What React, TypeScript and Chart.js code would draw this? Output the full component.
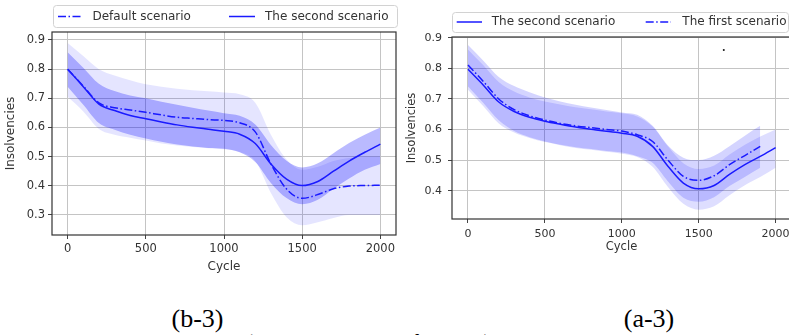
import React, { useEffect, useRef } from "react";
import { Chart, registerables } from "chart.js";

Chart.register(...registerables);

// ---------- shared axis values ----------
const CYCLES = [0, 100, 200, 300, 400, 500, 600, 700, 800, 900, 1000, 1100, 1200, 1300, 1400, 1500, 1600, 1700, 1800, 1900, 2000];
const CYCLES_FIRST = [0, 100, 200, 300, 400, 500, 600, 700, 800, 900, 1000, 1100, 1200, 1300, 1400, 1500, 1600, 1700, 1800, 1900];
const X_TICKS = [0, 500, 1000, 1500, 2000];
const Y_TICKS_B = [0.3, 0.4, 0.5, 0.6, 0.7, 0.8, 0.9];
const Y_TICKS_A = [0.4, 0.5, 0.6, 0.7, 0.8, 0.9];

// ---------- (b-3) ----------
const B_DEFAULT_MEAN = [0.800, 0.742, 0.684, 0.668, 0.660, 0.652, 0.643, 0.635, 0.631, 0.627, 0.624, 0.616, 0.585, 0.475, 0.389, 0.357, 0.370, 0.390, 0.399, 0.401, 0.402];
const B_DEFAULT_UPPER = [0.890, 0.845, 0.800, 0.778, 0.762, 0.748, 0.740, 0.733, 0.728, 0.724, 0.720, 0.714, 0.685, 0.575, 0.490, 0.455, 0.465, 0.485, 0.495, 0.500, 0.500];
const B_DEFAULT_LOWER = [0.705, 0.655, 0.595, 0.575, 0.565, 0.555, 0.545, 0.538, 0.533, 0.529, 0.525, 0.516, 0.485, 0.375, 0.292, 0.265, 0.275, 0.290, 0.300, 0.300, 0.300];
const B_SECOND_MEAN = [0.800, 0.740, 0.680, 0.658, 0.641, 0.630, 0.619, 0.609, 0.601, 0.594, 0.587, 0.577, 0.545, 0.475, 0.423, 0.401, 0.415, 0.450, 0.485, 0.515, 0.543];
const B_SECOND_UPPER = [0.858, 0.805, 0.750, 0.725, 0.710, 0.700, 0.688, 0.678, 0.668, 0.658, 0.649, 0.640, 0.610, 0.540, 0.486, 0.463, 0.477, 0.512, 0.547, 0.575, 0.600];
const B_SECOND_LOWER = [0.740, 0.678, 0.615, 0.592, 0.575, 0.562, 0.551, 0.542, 0.535, 0.530, 0.527, 0.515, 0.482, 0.410, 0.358, 0.337, 0.352, 0.390, 0.425, 0.455, 0.475];

// ---------- (a-3) ----------
const A_SECOND_MEAN = [0.797, 0.745, 0.690, 0.659, 0.640, 0.627, 0.617, 0.608, 0.601, 0.594, 0.588, 0.578, 0.545, 0.480, 0.425, 0.406, 0.417, 0.453, 0.485, 0.512, 0.541];
const A_SECOND_UPPER = [0.862, 0.810, 0.755, 0.724, 0.705, 0.692, 0.682, 0.673, 0.666, 0.659, 0.653, 0.643, 0.610, 0.545, 0.490, 0.471, 0.482, 0.518, 0.550, 0.577, 0.600];
const A_SECOND_LOWER = [0.730, 0.676, 0.620, 0.590, 0.572, 0.559, 0.549, 0.540, 0.534, 0.527, 0.521, 0.510, 0.478, 0.412, 0.357, 0.338, 0.349, 0.385, 0.418, 0.445, 0.475];
const A_FIRST_MEAN = [0.811, 0.757, 0.700, 0.665, 0.645, 0.631, 0.620, 0.612, 0.606, 0.600, 0.595, 0.583, 0.561, 0.500, 0.447, 0.434, 0.449, 0.485, 0.515, 0.545];
const A_FIRST_UPPER = [0.876, 0.825, 0.772, 0.742, 0.722, 0.705, 0.692, 0.681, 0.672, 0.664, 0.656, 0.648, 0.612, 0.548, 0.508, 0.500, 0.514, 0.545, 0.580, 0.612];
const A_FIRST_LOWER = [0.741, 0.687, 0.630, 0.595, 0.575, 0.561, 0.550, 0.542, 0.536, 0.530, 0.525, 0.513, 0.491, 0.430, 0.377, 0.364, 0.379, 0.415, 0.445, 0.475];
const A_STRAY_X = [1663];
const A_STRAY_Y = [0.86];

const LINE_BLUE = "#1a1aff";
const DASH_DOT = [8, 2.5, 1.5, 2.5];
const FONT = "DejaVu Sans";
const TEXT = "#333333";

const pts = (xs: number[], ys: number[]) => xs.map((x, i) => ({ x, y: ys[i] }));

function line(xs: number[], ys: number[], dash: number[]) {
  return {
    data: pts(xs, ys),
    borderColor: LINE_BLUE,
    borderWidth: 1.5,
    borderDash: dash,
    pointRadius: 0,
    fill: false,
    cubicInterpolationMode: "monotone",
  };
}

function band(xs: number[], up: number[], lo: number[], color: string) {
  return [
    {
      data: pts(xs, up),
      borderWidth: 0,
      borderColor: "rgba(0,0,0,0)",
      pointRadius: 0,
      fill: "+1",
      backgroundColor: color,
      cubicInterpolationMode: "monotone",
    },
    {
      data: pts(xs, lo),
      borderWidth: 0,
      borderColor: "rgba(0,0,0,0)",
      pointRadius: 0,
      fill: false,
      cubicInterpolationMode: "monotone",
    },
  ];
}

type LegendItem = { text: string; dash: number[]; x0: number; x1: number; tx: number };
type Spec = {
  width: number;
  height: number;
  padding: { left: number; top: number; right: number; bottom: number };
  yWidth: number;
  xHeight: number;
  xMin: number;
  xMax: number;
  yMin: number;
  yMax: number;
  yTicks: number[];
  tickFont: number;
  titleFont: number;
  xTickPad: number;
  yTickPad: number;
  yTitlePad: number;
  legendBox: [number, number, number, number];
  legendY: number;
  legendItems: LegendItem[];
  datasets: any[];
};

function makeChart(canvas: HTMLCanvasElement, s: Spec) {
  const framePlugin = {
    id: "frameLegend" + Math.random().toString(36).slice(2),
    afterDraw(chart: any) {
      const { ctx, chartArea } = chart;
      ctx.save();
      ctx.strokeStyle = "#333";
      ctx.lineWidth = 1.2;
      ctx.strokeRect(chartArea.left, chartArea.top, chartArea.right - chartArea.left, chartArea.bottom - chartArea.top);
      const [bx, by, bw, bh] = s.legendBox;
      ctx.beginPath();
      const r = 3;
      ctx.moveTo(bx + r, by);
      ctx.lineTo(bx + bw - r, by);
      ctx.arcTo(bx + bw, by, bx + bw, by + r, r);
      ctx.lineTo(bx + bw, by + bh - r);
      ctx.arcTo(bx + bw, by + bh, bx + bw - r, by + bh, r);
      ctx.lineTo(bx + r, by + bh);
      ctx.arcTo(bx, by + bh, bx, by + bh - r, r);
      ctx.lineTo(bx, by + r);
      ctx.arcTo(bx, by, bx + r, by, r);
      ctx.closePath();
      ctx.fillStyle = "rgba(255,255,255,0.85)";
      ctx.fill();
      ctx.strokeStyle = "#d2d2d2";
      ctx.lineWidth = 1;
      ctx.stroke();
      for (const it of s.legendItems) {
        ctx.beginPath();
        ctx.setLineDash(it.dash);
        ctx.strokeStyle = LINE_BLUE;
        ctx.lineWidth = 1.5;
        ctx.moveTo(it.x0, s.legendY);
        ctx.lineTo(it.x1, s.legendY);
        ctx.stroke();
        ctx.setLineDash([]);
        ctx.fillStyle = TEXT;
        ctx.font = `12px "${FONT}"`;
        ctx.textBaseline = "middle";
        ctx.textAlign = "left";
        ctx.fillText(it.text, it.tx, s.legendY);
      }
      ctx.restore();
    },
  };

  return new Chart(canvas, {
    type: "line",
    data: { datasets: s.datasets },
    plugins: [framePlugin],
    options: {
      animation: false,
      responsive: false,
      devicePixelRatio: 1,
      events: [],
      layout: { padding: s.padding },
      plugins: { legend: { display: false }, tooltip: { enabled: false } },
      scales: {
        x: {
          type: "linear",
          min: s.xMin,
          max: s.xMax,
          afterBuildTicks: (sc: any) => {
            sc.ticks = X_TICKS.map((v) => ({ value: v }));
          },
          afterFit: (sc: any) => {
            sc.height = s.xHeight;
          },
          ticks: {
            autoSkip: false,
            maxRotation: 0,
            padding: s.xTickPad,
            color: TEXT,
            font: { family: FONT, size: s.tickFont },
            callback: (v: any) => String(v),
          },
          grid: { color: "#c4c4c4", lineWidth: 1, tickLength: 4, tickColor: "#444", drawTicks: true },
          border: { display: false },
          title: {
            display: true,
            text: "Cycle",
            color: TEXT,
            font: { family: FONT, size: s.titleFont },
            padding: { top: 0, bottom: 1 },
          },
        },
        y: {
          type: "linear",
          position: "left",
          min: s.yMin,
          max: s.yMax,
          afterBuildTicks: (sc: any) => {
            sc.ticks = s.yTicks.map((v) => ({ value: v }));
          },
          afterFit: (sc: any) => {
            sc.width = s.yWidth;
          },
          ticks: {
            autoSkip: false,
            padding: s.yTickPad,
            color: TEXT,
            font: { family: FONT, size: s.tickFont },
            callback: (v: any) => Number(v).toFixed(1),
          },
          grid: { color: "#c4c4c4", lineWidth: 1, tickLength: 4, tickColor: "#444", drawTicks: true },
          border: { display: false },
          title: {
            display: true,
            text: "Insolvencies",
            color: TEXT,
            font: { family: FONT, size: s.titleFont },
            padding: { top: s.yTitlePad, bottom: 0 },
          },
        },
      },
    } as any,
  });
}

const specB: Spec = {
  width: 400,
  height: 290,
  padding: { left: 0, top: 32, right: 4, bottom: 15 },
  yWidth: 52,
  xHeight: 40,
  xMin: -100,
  xMax: 2100,
  yMin: 0.2314,
  yMax: 0.9274,
  yTicks: Y_TICKS_B,
  tickFont: 11.5,
  titleFont: 12,
  xTickPad: 3.5,
  yTickPad: 3,
  yTitlePad: 4,
  legendBox: [53.5, 5.5, 344, 22],
  legendY: 16.5,
  legendItems: [
    { text: "Default scenario", dash: DASH_DOT, x0: 58, x1: 82, tx: 92.5 },
    { text: "The second scenario", dash: [], x0: 229, x1: 255, tx: 265 },
  ],
  datasets: [
    line(CYCLES, B_DEFAULT_MEAN, DASH_DOT),
    line(CYCLES, B_SECOND_MEAN, []),
    ...band(CYCLES, B_SECOND_UPPER, B_SECOND_LOWER, "rgba(0,0,255,0.27)"),
    ...band(CYCLES, B_DEFAULT_UPPER, B_DEFAULT_LOWER, "rgba(0,0,255,0.10)"),
  ],
};

const specA: Spec = {
  width: 405,
  height: 290,
  padding: { left: 0, top: 37, right: 9, bottom: 35 },
  yWidth: 57,
  xHeight: 36,
  xMin: -104,
  xMax: 2100,
  yMin: 0.3075,
  yMax: 0.9025,
  yTicks: Y_TICKS_A,
  tickFont: 11,
  titleFont: 11.5,
  xTickPad: 4.5,
  yTickPad: 6,
  yTitlePad: 10,
  legendBox: [57.5, 12.5, 336, 20],
  legendY: 22,
  legendItems: [
    { text: "The second scenario", dash: [], x0: 61.7, x1: 87, tx: 96.7 },
    { text: "The first scenario", dash: DASH_DOT, x0: 250.7, x1: 276, tx: 287.3 },
  ],
  datasets: [
    line(CYCLES, A_SECOND_MEAN, []),
    line(CYCLES_FIRST, A_FIRST_MEAN, DASH_DOT),
    {
      data: pts(A_STRAY_X, A_STRAY_Y),
      showLine: false,
      pointRadius: 1,
      pointBorderWidth: 0,
      pointBackgroundColor: "#111",
      fill: false,
    },
    ...band(CYCLES_FIRST, A_FIRST_UPPER, A_FIRST_LOWER, "rgba(0,0,255,0.17)"),
    ...band(CYCLES, A_SECOND_UPPER, A_SECOND_LOWER, "rgba(0,0,255,0.13)"),
  ],
};

export default function App() {
  const refB = useRef<HTMLCanvasElement>(null);
  const refA = useRef<HTMLCanvasElement>(null);

  useEffect(() => {
    const cb = makeChart(refB.current as HTMLCanvasElement, specB);
    const ca = makeChart(refA.current as HTMLCanvasElement, specA);
    return () => {
      cb.destroy();
      ca.destroy();
    };
  }, []);

  const serif = '"Liberation Serif", "Times New Roman", serif';

  return (
    <div
      style={{
        position: "fixed",
        left: 0,
        top: 0,
        width: 789,
        height: 335,
        overflow: "hidden",
        background: "#fff",
      }}
    >
      <canvas
        ref={refB}
        width={specB.width}
        height={specB.height}
        style={{ position: "absolute", left: 0, top: 0, width: specB.width, height: specB.height }}
      />
      <canvas
        ref={refA}
        width={specA.width}
        height={specA.height}
        style={{ position: "absolute", left: 395, top: 0, width: specA.width, height: specA.height }}
      />
      <div
        style={{
          position: "absolute",
          left: 137.5,
          top: 306,
          width: 120,
          textAlign: "center",
          fontFamily: serif,
          fontSize: 26,
          lineHeight: "26px",
          color: "#000",
        }}
      >
        (b-3)
      </div>
      <div
        style={{
          position: "absolute",
          left: 589,
          top: 306,
          width: 120,
          textAlign: "center",
          fontFamily: serif,
          fontSize: 26,
          lineHeight: "26px",
          color: "#000",
        }}
      >
        (a-3)
      </div>
      <div
        style={{
          position: "absolute",
          left: 45,
          top: 330,
          whiteSpace: "nowrap",
          fontFamily: serif,
          fontSize: 22,
          lineHeight: "24px",
          color: "#000",
        }}
      >
        Figure 4. Insolvencies (Source: Research findings)
      </div>
    </div>
  );
}
